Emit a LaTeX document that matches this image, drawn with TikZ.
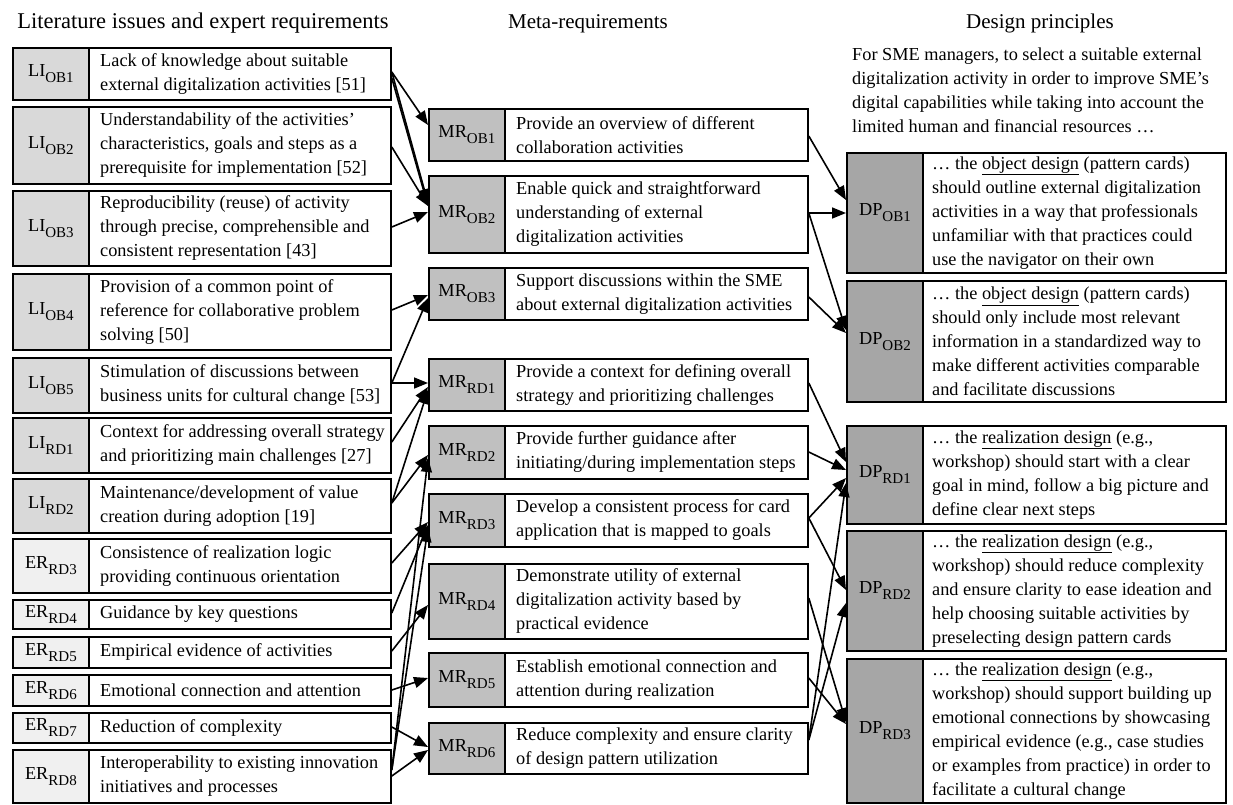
\documentclass[tikz,border=0pt]{standalone}
\usepackage{fontspec}
\setmainfont{Liberation Serif}
\usetikzlibrary{arrows.meta,calc}
\definecolor{lifill}{HTML}{D9D9D9}
\definecolor{erfill}{HTML}{F0F0F0}
\definecolor{mrfill}{HTML}{C0C0C0}
\definecolor{dpfill}{HTML}{A6A6A6}
\newcommand{\lsub}[1]{\raisebox{-0.32em}{\fontsize{15pt}{15pt}\selectfont #1}}
% #1 name, #2 left x, #3 top, #4 bottom, #5 fill, #6 label, #7 cell width, #8 text indent, #9 text
\newcommand{\mkrow}[9]{%
  \node[labcell, fill=#5, minimum height={(#4-#3)*1pt}] (#1L) at (#2,#3) {#6};
  \node[txtcell, minimum width=#7pt, minimum height={(#4-#3)*1pt}] (#1) at ($(#2,#3)+(76,0)$) {};
  \node[celltext] (#1T) at ($(#1.west)+(#8,0)$) {#9};
}
\newcommand{\cn}[4]{\draw[conn] (#1.east |- 0,#2) -- (#3L.west |- 0,#4);}
\begin{document}
\begin{tikzpicture}[x=1pt,y=-1pt,
  font=\fontsize{18.3pt}{24pt}\selectfont,
  labcell/.style={draw, line width=1.8pt, anchor=north west, minimum width=76pt, inner sep=0pt, align=center},
  txtcell/.style={draw, line width=1.8pt, anchor=north west, inner sep=0pt, fill=white},
  celltext/.style={anchor=west, align=left, inner sep=0pt},
  conn/.style={line width=1.6pt, -{Triangle[length=14pt,width=11pt]}},
  head/.style={anchor=base}]
\fill[white] (0,0) rectangle (1233,804);
\useasboundingbox (0,0) rectangle (1233,804);

\node[head, font=\fontsize{22.5pt}{28pt}\selectfont] (h1) at (203,28) {Literature issues and expert requirements};
\node[head, font=\fontsize{21pt}{28pt}\selectfont] (h2) at (588,28) {Meta-requirements};
\node[head, font=\fontsize{21pt}{28pt}\selectfont] (h3) at (1040,28) {Design principles};
\node[anchor=north west, align=left, inner sep=0pt] (intro) at (852,48) {For SME managers, to select a suitable external\\digitalization activity in order to improve SME’s\\digital capabilities while taking into account the\\limited human and financial resources …};

% left column
\mkrow{LIOB1}{12}{47}{99}{lifill}{LI\lsub{OB1}}{302}{12}{Lack of knowledge about suitable\\external digitalization activities [51]}
\mkrow{LIOB2}{12}{106}{183}{lifill}{LI\lsub{OB2}}{302}{12}{Understandability of the activities’\\characteristics, goals and steps as a\\prerequisite for implementation [52]}
\mkrow{LIOB3}{12}{190}{265}{lifill}{LI\lsub{OB3}}{302}{12}{Reproducibility (reuse) of activity\\through precise, comprehensible and\\consistent representation [43]}
\mkrow{LIOB4}{12}{273}{349}{lifill}{LI\lsub{OB4}}{302}{12}{Provision of a common point of\\reference for collaborative problem\\solving [50]}
\mkrow{LIOB5}{12}{357}{412}{lifill}{LI\lsub{OB5}}{302}{12}{Stimulation of discussions between\\business units for cultural change [53]}
\mkrow{LIRD1}{12}{417}{472}{lifill}{LI\lsub{RD1}}{302}{12}{Context for addressing overall strategy\\and prioritizing main challenges [27]}
\mkrow{LIRD2}{12}{478}{532}{lifill}{LI\lsub{RD2}}{302}{12}{Maintenance/development of value\\creation during adoption [19]}
\mkrow{ERRD3}{12}{538}{592}{erfill}{ER\lsub{RD3}}{302}{12}{Consistence of realization logic\\providing continuous orientation}
\mkrow{ERRD4}{12}{599}{628}{erfill}{ER\lsub{RD4}}{302}{12}{Guidance by key questions}
\mkrow{ERRD5}{12}{636}{667}{erfill}{ER\lsub{RD5}}{302}{12}{Empirical evidence of activities}
\mkrow{ERRD6}{12}{674}{705}{erfill}{ER\lsub{RD6}}{302}{12}{Emotional connection and attention}
\mkrow{ERRD7}{12}{712}{742}{erfill}{ER\lsub{RD7}}{302}{12}{Reduction of complexity}
\mkrow{ERRD8}{12}{749}{802}{erfill}{ER\lsub{RD8}}{302}{12}{Interoperability to existing innovation\\initiatives and processes}

% middle column
\mkrow{MROB1}{428}{108}{160}{mrfill}{MR\lsub{OB1}}{303}{12}{Provide an overview of different\\collaboration activities}
\mkrow{MROB2}{428}{175}{252}{mrfill}{MR\lsub{OB2}}{303}{12}{Enable quick and straightforward\\understanding of external\\digitalization activities}
\mkrow{MROB3}{428}{267}{319}{mrfill}{MR\lsub{OB3}}{303}{12}{Support discussions within the SME\\about external digitalization activities}
\mkrow{MRRD1}{428}{358}{410}{mrfill}{MR\lsub{RD1}}{303}{12}{Provide a context for defining overall\\strategy and prioritizing challenges}
\mkrow{MRRD2}{428}{425}{478}{mrfill}{MR\lsub{RD2}}{303}{12}{Provide further guidance after\\initiating/during implementation steps}
\mkrow{MRRD3}{428}{493}{546}{mrfill}{MR\lsub{RD3}}{303}{12}{Develop a consistent process for card\\application that is mapped to goals}
\mkrow{MRRD4}{428}{563}{638}{mrfill}{MR\lsub{RD4}}{303}{12}{Demonstrate utility of external\\digitalization activity based by\\practical evidence}
\mkrow{MRRD5}{428}{652}{706}{mrfill}{MR\lsub{RD5}}{303}{12}{Establish emotional connection and\\attention during realization}
\mkrow{MRRD6}{428}{722}{773}{mrfill}{MR\lsub{RD6}}{303}{12}{Reduce complexity and ensure clarity\\of design pattern utilization}

% right column
\mkrow{DPOB1}{846}{152}{272}{dpfill}{DP\lsub{OB1}}{303}{10}{… the \underline{object design} (pattern cards)\\should outline external digitalization\\activities in a way that professionals\\unfamiliar with that practices could\\use the navigator on their own}
\mkrow{DPOB2}{846}{280}{401}{dpfill}{DP\lsub{OB2}}{303}{10}{… the \underline{object design} (pattern cards)\\should only include most relevant\\information in a standardized way to\\make different activities comparable\\and facilitate discussions}
\mkrow{DPRD1}{846}{425}{523}{dpfill}{DP\lsub{RD1}}{303}{10}{… the \underline{realization design} (e.g.,\\workshop) should start with a clear\\goal in mind, follow a big picture and\\define clear next steps}
\mkrow{DPRD2}{846}{530}{650}{dpfill}{DP\lsub{RD2}}{303}{10}{… the \underline{realization design} (e.g.,\\workshop) should reduce complexity\\and ensure clarity to ease ideation and\\help choosing suitable activities by\\preselecting design pattern cards}
\mkrow{DPRD3}{846}{658}{802}{dpfill}{DP\lsub{RD3}}{303}{10}{… the \underline{realization design} (e.g.,\\workshop) should support building up\\emotional connections by showcasing\\empirical evidence (e.g., case studies\\or examples from practice) in order to\\facilitate a cultural change}

% left -> middle
\cn{LIOB1}{72}{MROB1}{125}
\cn{LIOB1}{72}{MROB2}{203}
\cn{LIOB1}{78}{MROB2}{206}
\cn{LIOB2}{147}{MROB2}{206}
\cn{LIOB3}{227}{MROB2}{212}
\cn{LIOB4}{310}{MROB3}{295}
\cn{LIOB5}{383}{MROB3}{298}
\cn{LIOB5}{383}{MRRD1}{383}
\cn{LIRD1}{442}{MRRD1}{387}
\cn{LIRD2}{503}{MRRD1}{390}
\cn{LIRD2}{503}{MRRD2}{455}
\cn{ERRD8}{770}{MRRD2}{458}
\cn{ERRD3}{563}{MRRD3}{522}
\cn{ERRD4}{613}{MRRD3}{525}
\cn{ERRD8}{770}{MRRD3}{528}
\cn{ERRD5}{651}{MRRD4}{605}
\cn{ERRD6}{690}{MRRD5}{678}
\cn{ERRD7}{727}{MRRD6}{747}
\cn{ERRD8}{776}{MRRD6}{750}

% middle -> right
\cn{MROB1}{136}{DPOB1}{200}
\cn{MROB2}{213}{DPOB1}{213}
\cn{MROB2}{213}{DPOB2}{330}
\cn{MROB3}{297}{DPOB2}{333}
\cn{MRRD1}{383}{DPRD1}{462}
\cn{MRRD2}{452}{DPRD1}{470}
\cn{MRRD3}{518}{DPRD1}{478}
\cn{MRRD6}{740}{DPRD1}{483}
\cn{MRRD3}{518}{DPRD2}{590}
\cn{MRRD6}{740}{DPRD2}{603}
\cn{MRRD4}{598}{DPRD3}{722}
\cn{MRRD5}{678}{DPRD3}{724}
\end{tikzpicture}
\end{document}
